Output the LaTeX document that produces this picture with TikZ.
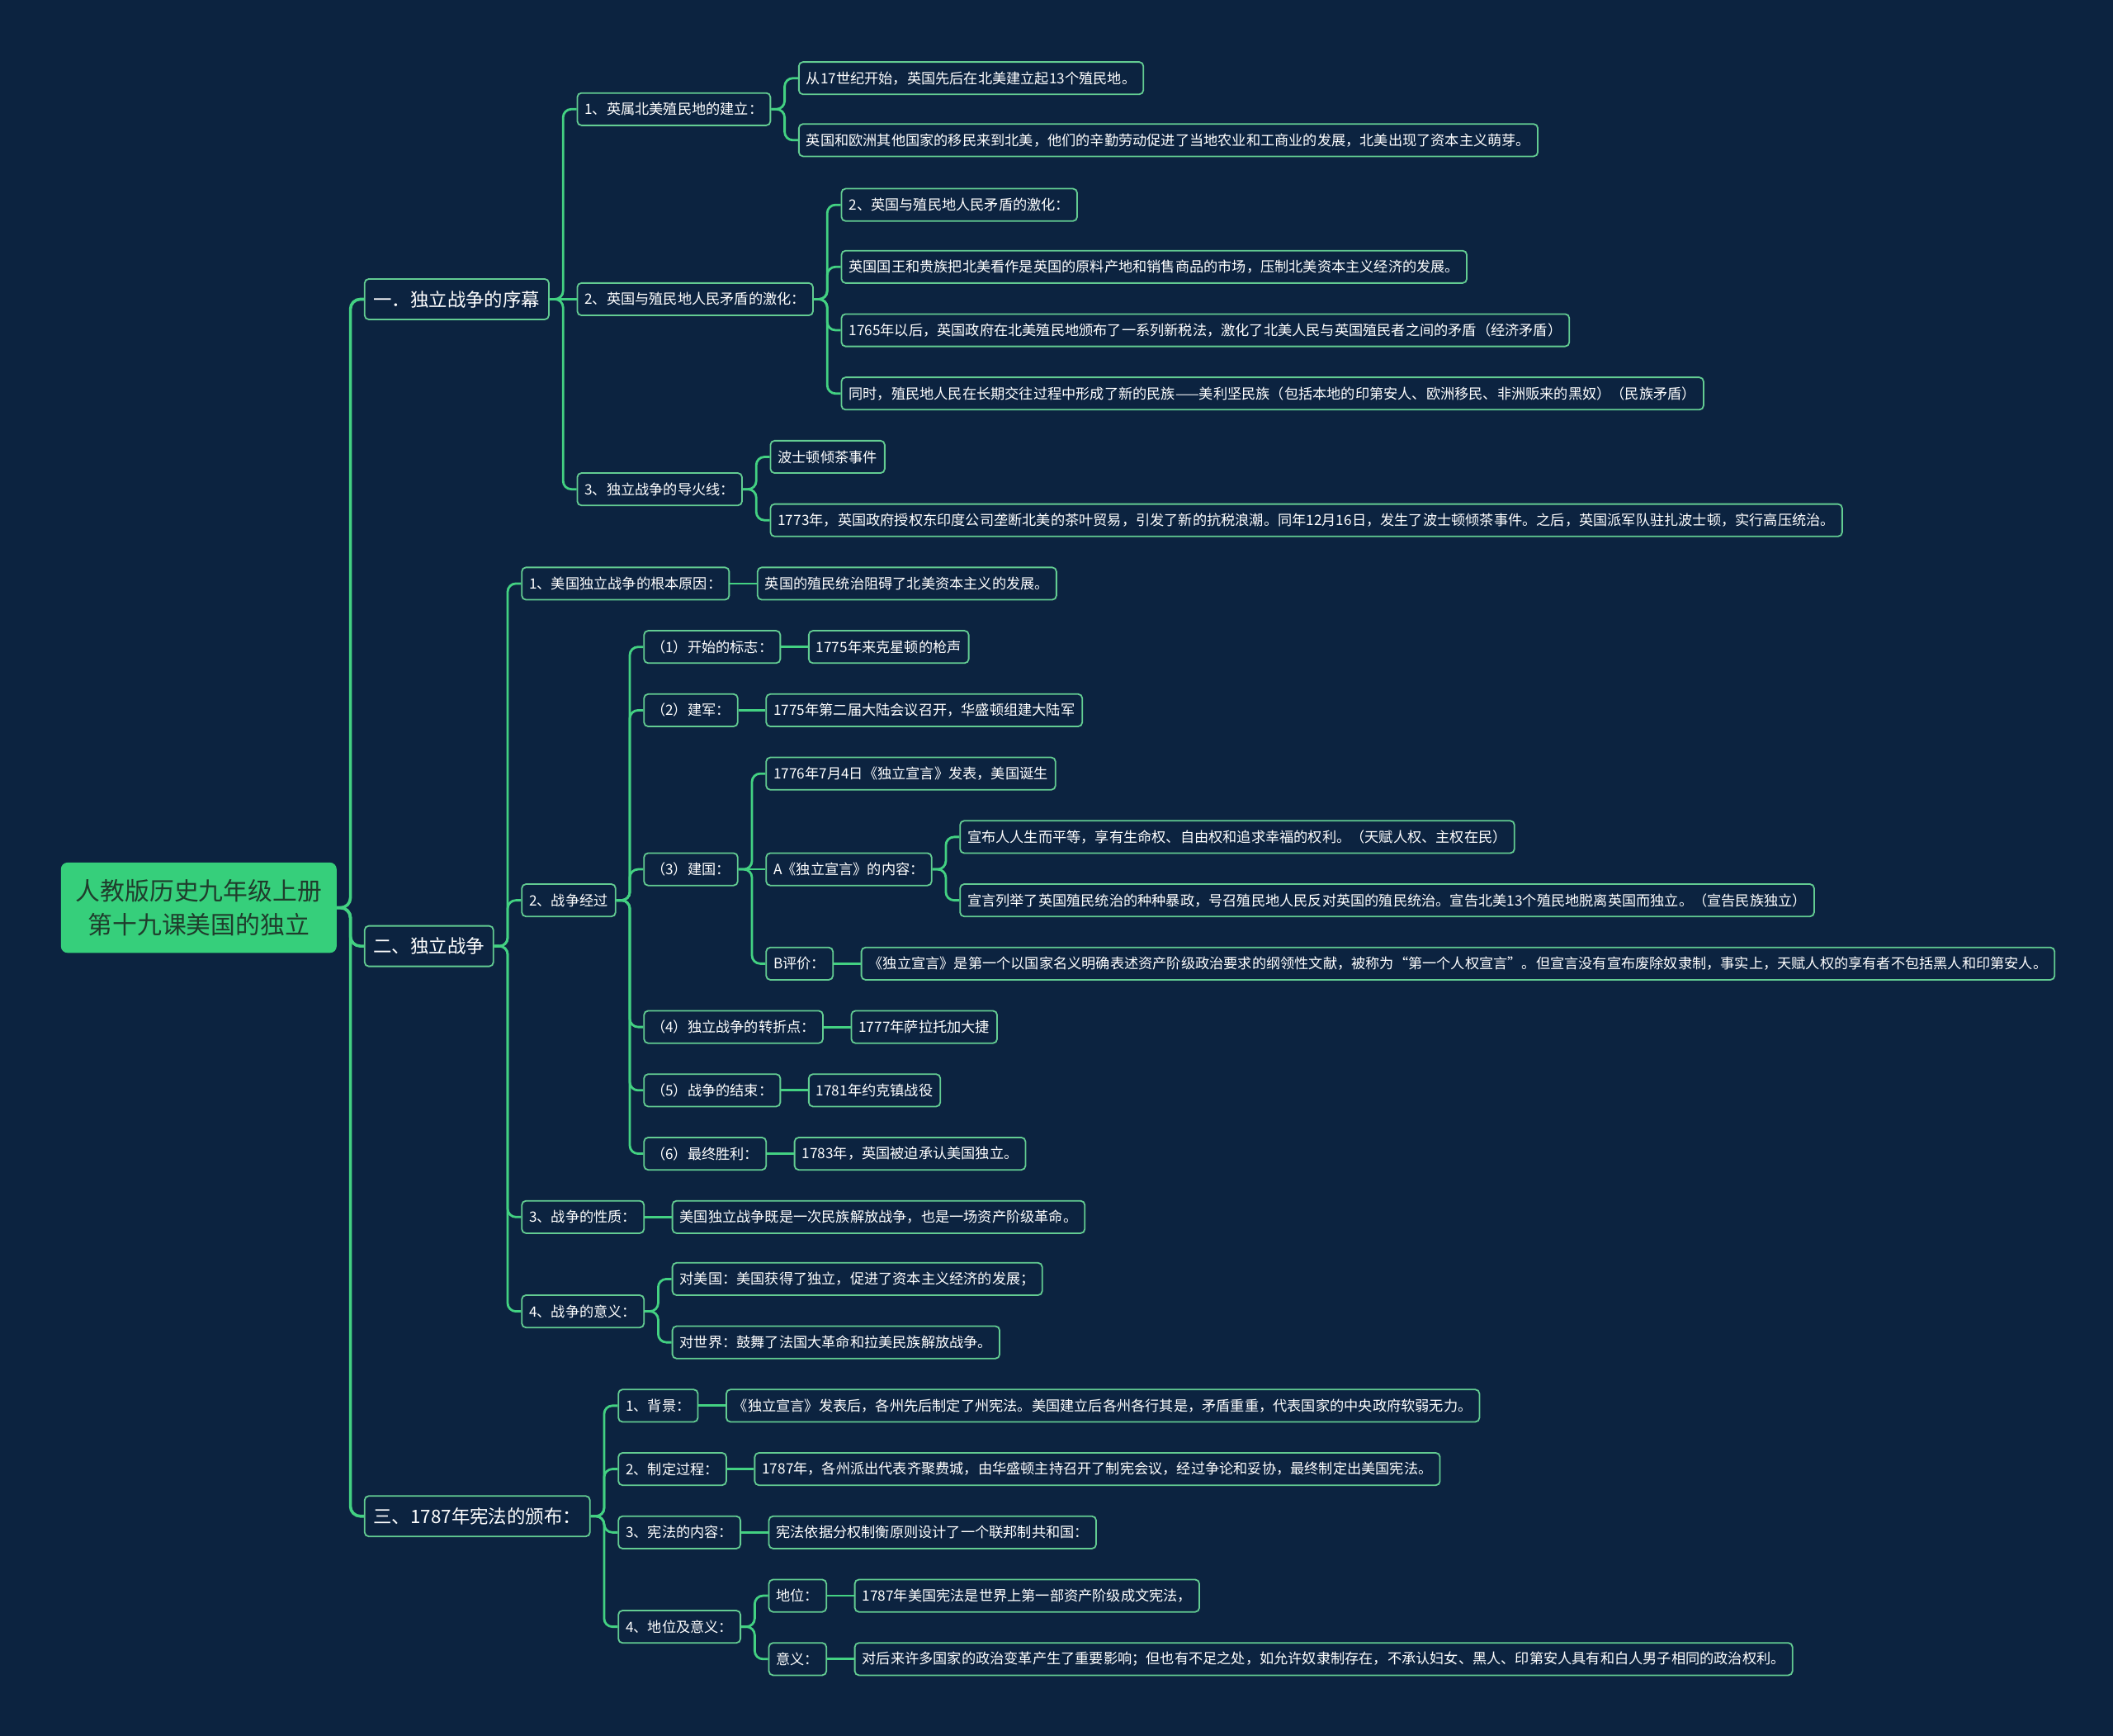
\documentclass[tikz,border=0pt]{standalone}
\usepackage{fontspec}
\setmainfont{Noto Sans CJK SC}
\usetikzlibrary{calc}
\definecolor{bgc}{HTML}{0C2340}
\definecolor{linec}{HTML}{43D182}
\definecolor{borderc}{HTML}{63CC92}
\definecolor{rootc}{HTML}{36CF7B}
\definecolor{roottext}{HTML}{1F3D2C}
\tikzset{
  rootnode/.style={fill=rootc, rounded corners=4pt, text=roottext, align=center,
    font=\fontsize{14.9}{20.4}\selectfont, minimum width=167pt, minimum height=54.7pt, inner sep=0pt},
  lone/.style={draw=borderc, line width=0.9pt, fill=bgc, rounded corners=2.5pt, text=white,
    font=\fontsize{11.2}{13}\selectfont, minimum height=24.5pt, inner ysep=0pt, inner xsep=5.4pt},
  leaf/.style={draw=borderc, line width=0.9pt, fill=bgc, rounded corners=2.5pt, text=white,
    font=\fontsize{8.6}{10}\selectfont, minimum height=19.6pt, inner ysep=0pt, inner xsep=4.5pt},
  conn/.style={draw=linec, line width=1.4pt, rounded corners=5pt},
  rconn/.style={draw=linec, line width=1.8pt, rounded corners=6pt},
}
% branching child: #1 connector style, #2 parent, #3 name, #4 centre y, #5 node style, #6 text
\newcommand\mmkid[6]{%
  \node[#5, anchor=west] (#3) at ($(#2.east |- 0,#4)+(20,0)$) {#6};
  \draw[#1] (#2.east) -- ++(10,0) |- (#3.west);
}
% child level with its parent: straight connector
\newcommand\mmkidS[6]{%
  \node[#5, anchor=west] (#3) at ($(#2.east |- 0,#4)+(20,0)$) {#6};
  \draw[#1, sharp corners] (#2.east) -- (#3.west);
}
\begin{document}
\begin{tikzpicture}[x=0.8163pt, y=-0.8163pt]
\fill[bgc] (0,0) rectangle (1568,1288);
\useasboundingbox (0,0) rectangle (1568,1288);

\node[rootnode] (root) at (147.5,673.5) {人教版历史九年级上册\\第十九课美国的独立};

% ---- 一 ----
\mmkid{rconn}{root}{A}{222}{lone}{一．独立战争的序幕}
\mmkid{conn}{A}{A1}{81}{leaf}{1、英属北美殖民地的建立：}
\mmkid{conn}{A1}{A11}{58}{leaf}{从17世纪开始，英国先后在北美建立起13个殖民地。}
\mmkid{conn}{A1}{A12}{104}{leaf}{英国和欧洲其他国家的移民来到北美，他们的辛勤劳动促进了当地农业和工商业的发展，北美出现了资本主义萌芽。}
\mmkidS{conn}{A}{A2}{222}{leaf}{2、英国与殖民地人民矛盾的激化：}
\mmkid{conn}{A2}{A21}{152}{leaf}{2、英国与殖民地人民矛盾的激化：}
\mmkid{conn}{A2}{A22}{198}{leaf}{英国国王和贵族把北美看作是英国的原料产地和销售商品的市场，压制北美资本主义经济的发展。}
\mmkid{conn}{A2}{A23}{245}{leaf}{1765年以后，英国政府在北美殖民地颁布了一系列新税法，激化了北美人民与英国殖民者之间的矛盾（经济矛盾）}
\mmkid{conn}{A2}{A24}{292}{leaf}{同时，殖民地人民在长期交往过程中形成了新的民族——美利坚民族（包括本地的印第安人、欧洲移民、非洲贩来的黑奴）（民族矛盾）}
\mmkid{conn}{A}{A3}{363}{leaf}{3、独立战争的导火线：}
\mmkid{conn}{A3}{A31}{339}{leaf}{波士顿倾茶事件}
\mmkid{conn}{A3}{A32}{386}{leaf}{1773年，英国政府授权东印度公司垄断北美的茶叶贸易，引发了新的抗税浪潮。同年12月16日，发生了波士顿倾茶事件。之后，英国派军队驻扎波士顿，实行高压统治。}

% ---- 二 ----
\mmkid{rconn}{root}{B}{702}{lone}{二、独立战争}
\mmkid{conn}{B}{B1}{433}{leaf}{1、美国独立战争的根本原因：}
\mmkidS{conn}{B1}{B11}{433}{leaf}{英国的殖民统治阻碍了北美资本主义的发展。}
\mmkid{conn}{B}{B2}{668}{leaf}{2、战争经过}
\mmkid{conn}{B2}{B21}{480}{leaf}{（1）开始的标志：}
\mmkidS{conn}{B21}{B211}{480}{leaf}{1775年来克星顿的枪声}
\mmkid{conn}{B2}{B22}{527}{leaf}{（2）建军：}
\mmkidS{conn}{B22}{B221}{527}{leaf}{1775年第二届大陆会议召开，华盛顿组建大陆军}
\mmkid{conn}{B2}{B23}{645}{leaf}{（3）建国：}
\mmkid{conn}{B23}{B231}{574}{leaf}{1776年7月4日《独立宣言》发表，美国诞生}
\mmkidS{conn}{B23}{B232}{645}{leaf}{A《独立宣言》的内容：}
\mmkid{conn}{B232}{B2321}{621}{leaf}{宣布人人生而平等，享有生命权、自由权和追求幸福的权利。（天赋人权、主权在民）}
\mmkid{conn}{B232}{B2322}{668}{leaf}{宣言列举了英国殖民统治的种种暴政，号召殖民地人民反对英国的殖民统治。宣告北美13个殖民地脱离英国而独立。（宣告民族独立）}
\mmkid{conn}{B23}{B233}{715}{leaf}{B评价：}
\mmkidS{conn}{B233}{B2331}{715}{leaf}{《独立宣言》是第一个以国家名义明确表述资产阶级政治要求的纲领性文献，被称为“第一个人权宣言”。但宣言没有宣布废除奴隶制，事实上，天赋人权的享有者不包括黑人和印第安人。}
\mmkid{conn}{B2}{B24}{762}{leaf}{（4）独立战争的转折点：}
\mmkidS{conn}{B24}{B241}{762}{leaf}{1777年萨拉托加大捷}
\mmkid{conn}{B2}{B25}{809}{leaf}{（5）战争的结束：}
\mmkidS{conn}{B25}{B251}{809}{leaf}{1781年约克镇战役}
\mmkid{conn}{B2}{B26}{856}{leaf}{（6）最终胜利：}
\mmkidS{conn}{B26}{B261}{856}{leaf}{1783年，英国被迫承认美国独立。}
\mmkid{conn}{B}{B3}{903}{leaf}{3、战争的性质：}
\mmkidS{conn}{B3}{B31}{903}{leaf}{美国独立战争既是一次民族解放战争，也是一场资产阶级革命。}
\mmkid{conn}{B}{B4}{973}{leaf}{4、战争的意义：}
\mmkid{conn}{B4}{B41}{949}{leaf}{对美国：美国获得了独立，促进了资本主义经济的发展；}
\mmkid{conn}{B4}{B42}{996}{leaf}{对世界：鼓舞了法国大革命和拉美民族解放战争。}

% ---- 三 ----
\mmkid{rconn}{root}{C}{1125}{lone}{三、1787年宪法的颁布：}
\mmkid{conn}{C}{C1}{1043}{leaf}{1、背景：}
\mmkidS{conn}{C1}{C11}{1043}{leaf}{《独立宣言》发表后，各州先后制定了州宪法。美国建立后各州各行其是，矛盾重重，代表国家的中央政府软弱无力。}
\mmkid{conn}{C}{C2}{1090}{leaf}{2、制定过程：}
\mmkidS{conn}{C2}{C21}{1090}{leaf}{1787年，各州派出代表齐聚费城，由华盛顿主持召开了制宪会议，经过争论和妥协，最终制定出美国宪法。}
\mmkid{conn}{C}{C3}{1137}{leaf}{3、宪法的内容：}
\mmkidS{conn}{C3}{C31}{1137}{leaf}{宪法依据分权制衡原则设计了一个联邦制共和国：}
\mmkid{conn}{C}{C4}{1207}{leaf}{4、地位及意义：}
\mmkid{conn}{C4}{C41}{1184}{leaf}{地位：}
\mmkidS{conn}{C41}{C411}{1184}{leaf}{1787年美国宪法是世界上第一部资产阶级成文宪法，}
\mmkid{conn}{C4}{C42}{1231}{leaf}{意义：}
\mmkidS{conn}{C42}{C421}{1231}{leaf}{对后来许多国家的政治变革产生了重要影响；但也有不足之处，如允许奴隶制存在，不承认妇女、黑人、印第安人具有和白人男子相同的政治权利。}
\end{tikzpicture}
\end{document}
